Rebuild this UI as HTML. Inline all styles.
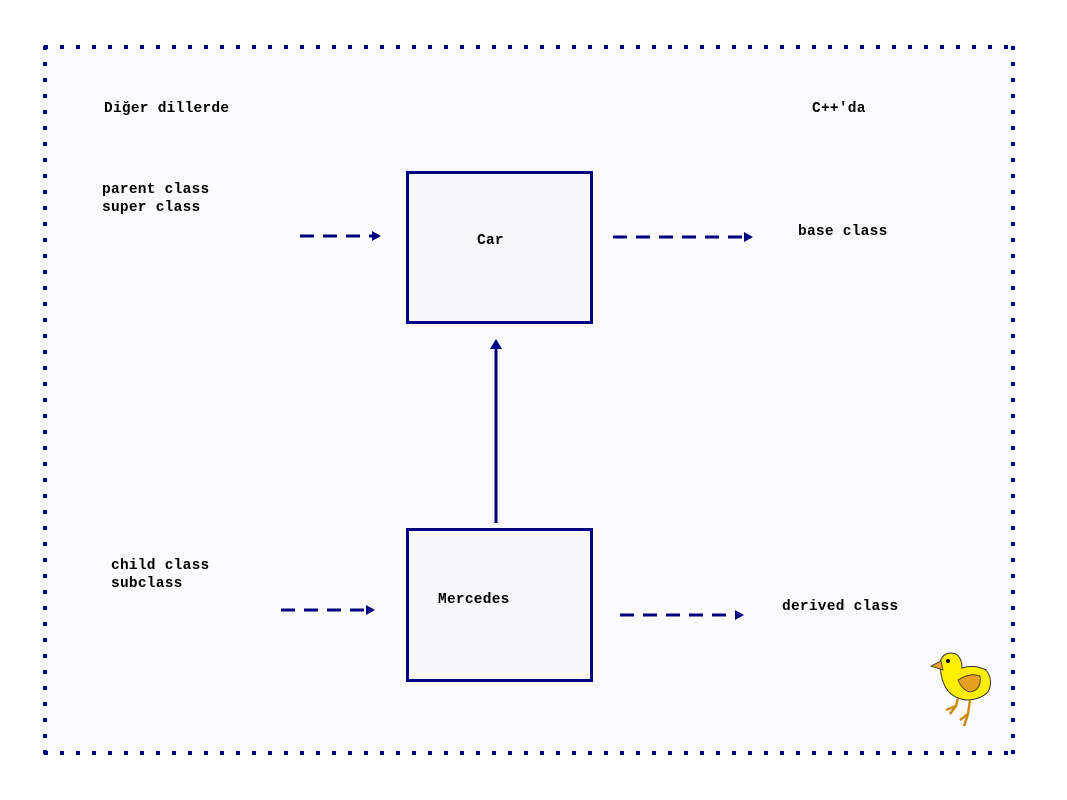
<!DOCTYPE html>
<html><head><style>
body{margin:0;width:1067px;height:800px;background:#fff;position:relative;overflow:hidden}
.t{position:absolute;font-family:"Liberation Mono",monospace;font-weight:bold;font-size:14.5px;letter-spacing:0.25px;color:#000;line-height:18px;white-space:pre}
</style></head><body>
<svg width="1067" height="800" style="position:absolute;left:0;top:0">
<rect x="46" y="48" width="966" height="704" fill="#fbfbfd"/>
<g stroke="#000080" stroke-width="4" stroke-dasharray="4 12" fill="none">
<line x1="44" y1="47" x2="1016" y2="47"/>
<line x1="44" y1="753" x2="1016" y2="753"/>
<line x1="45" y1="46" x2="45" y2="754"/>
<line x1="1013" y1="46" x2="1013" y2="754"/>
</g>
<rect x="407.5" y="172.5" width="184" height="150" fill="#f8f8fc" stroke="#000080" stroke-width="3"/>
<rect x="407.5" y="529.5" width="184" height="151" fill="#f8f8fc" stroke="#000080" stroke-width="3"/>
<line x1="496" y1="523" x2="496" y2="348" stroke="#000080" stroke-width="3"/>
<polygon points="490,349 502,349 496,339" fill="#000080"/>
<g stroke="#000080" stroke-width="3" stroke-dasharray="14 9">
<line x1="300" y1="236" x2="372" y2="236"/>
<line x1="613" y1="237" x2="745" y2="237"/>
<line x1="281" y1="610" x2="367" y2="610"/>
<line x1="620" y1="615" x2="736" y2="615"/>
</g>
<g fill="#000080">
<polygon points="372,231 381,236 372,241"/>
<polygon points="744,232 753,237 744,242"/>
<polygon points="366,605 375,610 366,615"/>
<polygon points="735,610 744,615 735,620"/>
</g>
<g transform="translate(930,650)">
<path d="M10 12 Q14 0 26 4 Q32 8 32 18 Q44 14 56 20 Q64 30 58 42 Q50 50 36 50 Q22 48 16 38 Q10 28 10 12Z" fill="#ffee00" stroke="#333" stroke-width="1"/>
<path d="M1 16 L11 11 L13 20 Z" fill="#e8a020" stroke="#333" stroke-width="0.8"/>
<circle cx="18" cy="11" r="2" fill="#000"/>
<path d="M28 30 Q40 22 50 26 Q52 40 40 42 Q32 40 28 30Z" fill="#e8a020" stroke="#333" stroke-width="0.8"/>
<path d="M28 48 L26 56 L16 60 M26 56 L20 64 M40 50 L38 64 L30 70 M38 64 L34 76" stroke="#d08a10" stroke-width="2.5" fill="none"/>
</g>
</svg>
<div class="t" style="left:104px;top:100px">Diğer dillerde</div>
<div class="t" style="left:812px;top:100px">C++'da</div>
<div class="t" style="left:102px;top:181px">parent class
super class</div>
<div class="t" style="left:477px;top:232px">Car</div>
<div class="t" style="left:798px;top:223px">base class</div>
<div class="t" style="left:111px;top:557px">child class
subclass</div>
<div class="t" style="left:438px;top:591px">Mercedes</div>
<div class="t" style="left:782px;top:598px">derived class</div>
</body></html>
